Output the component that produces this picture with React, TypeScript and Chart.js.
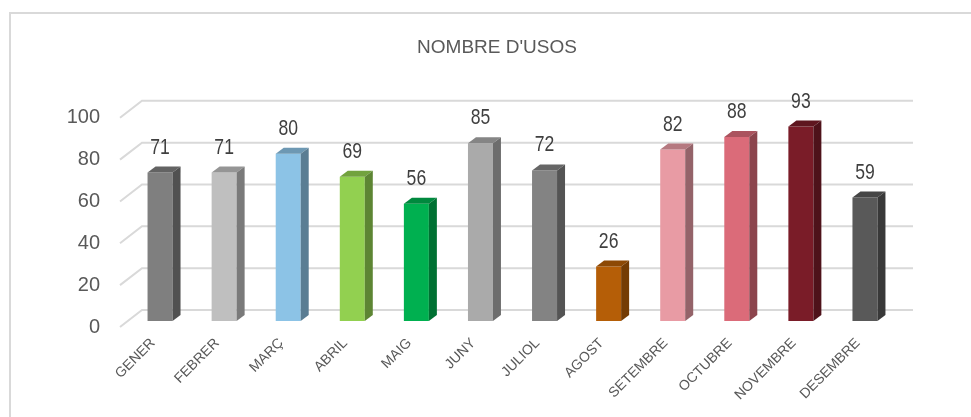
import React, { useEffect, useRef } from 'react';
import { Chart, registerables } from 'chart.js';

Chart.register(...registerables);

const categories = ['GENER', 'FEBRER', 'MARÇ', 'ABRIL', 'MAIG', 'JUNY', 'JULIOL', 'AGOST', 'SETEMBRE', 'OCTUBRE', 'NOVEMBRE', 'DESEMBRE'];
const usos = [71, 71, 80, 69, 56, 85, 72, 26, 82, 88, 93, 59];
const yTickValues = [0, 20, 40, 60, 80, 100];
const titleText = "NOMBRE D'USOS";
const barColors = ['#7f7f7f', '#bfbfbf', '#8cc3e6', '#92d050', '#00b050', '#aaaaaa', '#838383', '#b55e07', '#e89ba4', '#db6b79', '#7a1c28', '#595959'];

const SANS = "'Liberation Sans', Arial, sans-serif";

const DX = 8, DY = 6;   // bar depth
const WX = 14, WY = 11; // back wall offset from bar plane
const FX = 8, FY = 6;   // front floor edge offset from bar plane
const GRID = '#d9d9d9';

function shade(hex: string, f: number): string {
  const n = parseInt(hex.slice(1), 16);
  const r = Math.round(((n >> 16) & 255) * f);
  const g = Math.round(((n >> 8) & 255) * f);
  const b = Math.round((n & 255) * f);
  return `rgb(${r},${g},${b})`;
}

const threeD = {
  id: 'threeD',
  beforeDraw(chart: any) {
    const ctx = chart.ctx;
    ctx.save();
    ctx.strokeStyle = GRID;
    ctx.lineWidth = 2;
    ctx.strokeRect(10, 13, 1100, 600);
    ctx.restore();
  },
  beforeDatasetsDraw(chart: any) {
    const ctx = chart.ctx;
    const ys = chart.scales.y;
    const { left, right } = chart.chartArea;
    ctx.save();
    ctx.strokeStyle = GRID;
    ctx.lineWidth = 2;
    yTickValues.forEach((v) => {
      const y = ys.getPixelForValue(v);
      ctx.beginPath();
      ctx.moveTo(left - FX, y + FY);
      ctx.lineTo(left + WX, y - WY);
      ctx.lineTo(right + 16, y - WY);
      ctx.stroke();
    });
    ctx.restore();
  },
  afterDatasetsDraw(chart: any) {
    const ctx = chart.ctx;
    const meta = chart.getDatasetMeta(0);
    meta.data.forEach((bar: any, i: number) => {
      const c = barColors[i];
      const x0 = bar.x - bar.width / 2;
      const x1 = bar.x + bar.width / 2;
      const top = bar.y;
      const base = bar.base;
      ctx.save();
      // top face
      ctx.fillStyle = shade(c, 0.78);
      ctx.beginPath();
      ctx.moveTo(x0, top);
      ctx.lineTo(x0 + DX, top - DY);
      ctx.lineTo(x1 + DX, top - DY);
      ctx.lineTo(x1, top);
      ctx.closePath();
      ctx.fill();
      // side face
      ctx.fillStyle = shade(c, 0.64);
      ctx.beginPath();
      ctx.moveTo(x1, top);
      ctx.lineTo(x1 + DX, top - DY);
      ctx.lineTo(x1 + DX, base - DY);
      ctx.lineTo(x1, base);
      ctx.closePath();
      ctx.fill();
      // value label (narrow look)
      ctx.translate(bar.x, top - 25);
      ctx.scale(0.8, 1);
      ctx.fillStyle = '#3f3f3f';
      ctx.font = `22px ${SANS}`;
      ctx.textAlign = 'center';
      ctx.textBaseline = 'middle';
      ctx.fillText(String(usos[i]), 0, 0);
      ctx.restore();
    });
  },
};

export default function App() {
  const ref = useRef<HTMLCanvasElement | null>(null);
  useEffect(() => {
    document.body.style.margin = '0';
    const canvas = ref.current!;
    const chart = new Chart(canvas, {
      type: 'bar',
      data: {
        labels: categories,
        datasets: [
          {
            data: usos,
            backgroundColor: barColors,
            borderWidth: 0,
            categoryPercentage: 1,
            barPercentage: 0.39,
          },
        ],
      },
      options: {
        animation: false,
        responsive: false,
        devicePixelRatio: 1,
        layout: { padding: { left: 23, right: 0, top: 0, bottom: 0 } },
        plugins: {
          legend: { display: false },
          tooltip: { enabled: false },
          title: {
            display: true,
            text: titleText,
            color: '#595959',
            font: { family: SANS, size: 19, weight: 'normal' },
            padding: { top: 36, bottom: 53 },
          },
        },
        scales: {
          x: {
            grid: { display: false, drawTicks: false },
            border: { display: false },
            ticks: {
              color: '#595959',
              font: { family: SANS, size: 14 },
              minRotation: 45,
              maxRotation: 45,
              padding: 14,
              labelOffset: -7,
              autoSkip: false,
            },
            afterFit: (s: any) => { s.height = 96; },
          },
          y: {
            min: 0,
            max: 100,
            grid: { display: false, drawTicks: false },
            border: { display: false },
            ticks: {
              stepSize: 20,
              color: '#595959',
              font: { family: SANS, size: 20 },
              padding: 28,
              labelOffset: 6,
            },
            afterFit: (s: any) => { s.width = 105; },
          },
          yR: {
            position: 'right',
            display: true,
            grid: { display: false, drawTicks: false },
            border: { display: false },
            ticks: { display: false },
            afterFit: (s: any) => { s.width = 74; },
          },
        },
      },
      plugins: [threeD],
    } as any);
    return () => chart.destroy();
  }, []);
  return <canvas ref={ref} width={971} height={417} style={{ display: 'block' }} />;
}
